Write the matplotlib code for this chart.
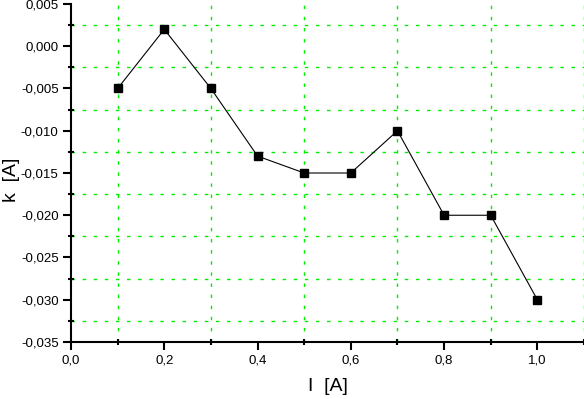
import numpy as np
import matplotlib
matplotlib.use("Agg")
import matplotlib.pyplot as plt
from matplotlib import font_manager
from matplotlib.ticker import MultipleLocator, FuncFormatter

# Data
current = [0.1, 0.2, 0.3, 0.4, 0.5, 0.6, 0.7, 0.8, 0.9, 1.0]
k_values = [-0.005, 0.002, -0.005, -0.013, -0.015, -0.015, -0.010, -0.020, -0.020, -0.030]

names = {f.name for f in font_manager.fontManager.ttflist}
fam = "Liberation Sans Narrow" if "Liberation Sans Narrow" in names else "Liberation Sans"
plt.rcParams['font.family'] = [fam, 'DejaVu Sans']

fig = plt.figure(figsize=(5.84, 3.99), dpi=100)
ax = fig.add_axes([71 / 584, 57 / 399, 513 / 584, 338 / 399])

ax.plot(current, k_values, color="black", linewidth=0.8,
        marker="s", markersize=6, markerfacecolor="black", markeredgecolor="black")

ax.set_xlim(0, 1.1)
ax.set_ylim(-0.035, 0.005)

ax.xaxis.set_major_locator(MultipleLocator(0.2))
ax.xaxis.set_minor_locator(MultipleLocator(0.1))
ax.yaxis.set_major_locator(MultipleLocator(0.005))
ax.yaxis.set_minor_locator(MultipleLocator(0.0025))

ax.xaxis.set_major_formatter(FuncFormatter(lambda v, p: f"{v:.1f}".replace(".", ",")))
ax.yaxis.set_major_formatter(FuncFormatter(lambda v, p: f"{v:.3f}".replace(".", ",").replace("\u2212", "-")))

# grid only on minor positions
ax.grid(False)
ax.grid(which="minor", color="#00ee00", linestyle=(0, (2.5, 5.5)), linewidth=1.0)

for side in ["top", "right"]:
    ax.spines[side].set_visible(False)
for side in ["left", "bottom"]:
    ax.spines[side].set_linewidth(1.5)

ax.tick_params(which="major", direction="out", length=6, width=1.5, labelsize=9.5, pad=3)
ax.tick_params(which="minor", direction="inout", length=5, width=1.5)

ax.set_xlabel("I  [A]", fontsize=14, labelpad=8)
ax.set_ylabel("k  [A]", fontsize=14)
ax.yaxis.set_label_coords(-0.100, 0.48)

plt.savefig("out.png", dpi=100)
